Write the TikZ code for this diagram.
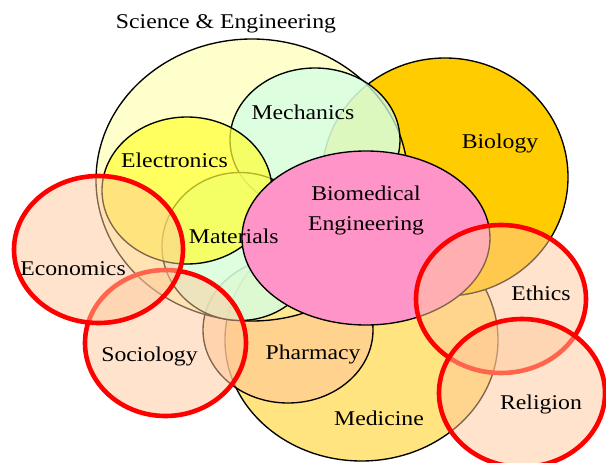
\documentclass[tikz,border=0pt]{standalone}
\usepackage{fontspec}
\setmainfont{Liberation Serif}[FakeStretch=1.13]
\usepackage{tikz}

\definecolor{sefill}{RGB}{255,255,153}
\definecolor{biofill}{RGB}{255,204,0}
\definecolor{mechfill}{RGB}{210,255,230}
\definecolor{elecfill}{RGB}{255,255,51}
\definecolor{medfill}{RGB}{255,228,128}
\definecolor{pharmfill}{RGB}{255,200,150}
\definecolor{bmefill}{RGB}{255,148,200}
\definecolor{peach}{RGB}{255,200,155}

\begin{document}
\begin{tikzpicture}[x=1pt,y=-1pt,
		field/.style={draw=black, line width=1.35pt},
		social/.style={draw=red, line width=4.6pt, fill=peach, fill opacity=.5},
		lbl/.style={anchor=base, font=\fontsize{21}{29.3}\selectfont}]
	\useasboundingbox (0,0) rectangle (606,463);

	% health side, under the rest
	\draw[field, fill=medfill] (361.5,340) ellipse [x radius=136.5, y radius=121];
	\draw[field, fill=pharmfill, fill opacity=.6] (288,330) ellipse [x radius=85, y radius=73];
	\draw[field, fill=biofill] (445,177) ellipse [x radius=123, y radius=119];

	% science & engineering
	\draw[field, fill=sefill, fill opacity=.5] (252,180) ellipse [x radius=156, y radius=141];
	\draw[field, fill=mechfill, fill opacity=.75] (315,140) ellipse [x radius=85, y radius=72];
	\draw[field, fill=mechfill, fill opacity=.75] (240,246.5) ellipse [x radius=78, y radius=74];
	\draw[field, fill=elecfill, fill opacity=.7] (187,190.5) ellipse [x radius=85, y radius=73.5];

	\draw[field, fill=bmefill] (366,238) ellipse [x radius=124, y radius=87];

	% humanities
	\draw[social] (165.5,343) ellipse [x radius=80.5, y radius=73];
	\draw[social] (98.5,249.5) ellipse [x radius=84.5, y radius=73.5];
	\draw[social] (501,299) ellipse [x radius=85, y radius=74];
	\draw[social] (522,393) ellipse [x radius=83, y radius=74];

	\node[lbl] (se) at (226,28.3) {Science \& Engineering};
	\node[lbl] (mech) at (303,119) {Mechanics};
	\node[lbl] (bio) at (500,148) {Biology};
	\node[lbl] (elec) at (174.5,167) {Electronics};
	\node[lbl] (mat) at (233.8,243) {Materials};
	\node[font=\fontsize{21}{29.3}\selectfont, align=center] (bme) at (366,210.5) {Biomedical\\Engineering};
	\node[lbl] (econ) at (73,275) {Economics};
	\node[lbl] (soc) at (149.5,361.7) {Sociology};
	\node[lbl] (eth) at (541,300.7) {Ethics};
	\node[lbl] (rel) at (541,409) {Religion};
	\node[lbl] (pharm) at (313,359) {Pharmacy};
	\node[lbl] (med) at (379,425.7) {Medicine};
\end{tikzpicture}
\end{document}
